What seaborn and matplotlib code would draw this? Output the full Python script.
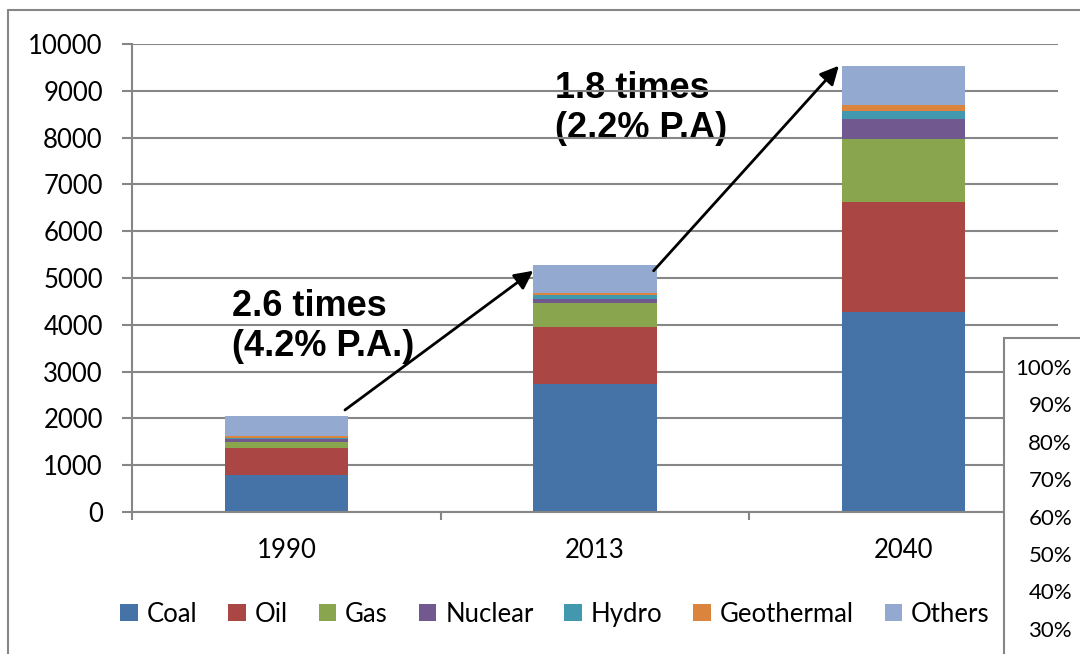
import matplotlib
matplotlib.use('Agg')
import matplotlib.pyplot as plt
from matplotlib.patches import Patch, Rectangle
from matplotlib.lines import Line2D
import pandas as pd
import seaborn as sns

# Data
years = ['1990', '2013', '2040']
sources = ['Coal', 'Oil', 'Gas', 'Nuclear', 'Hydro', 'Geothermal', 'Others']
coal = [785, 2730, 4275]
oil = [590, 1230, 2355]
gas = [120, 500, 1345]
nuclear = [65, 85, 415]
hydro = [30, 90, 185]
geothermal = [30, 35, 115]
others = [440, 605, 845]
colors = ['#4572A7', '#AA4643', '#89A54E', '#71588F', '#4198AF', '#DB843D', '#93A9CF']
yticks = list(range(0, 10001, 1000))
growth_labels = ['2.6 times\n(4.2% P.A.)', '1.8 times\n(2.2% P.A)']
side_labels = ['100%', '90%', '80%', '70%', '60%', '50%', '40%', '30%']

df = pd.DataFrame({'year': years, 'Coal': coal, 'Oil': oil, 'Gas': gas,
                   'Nuclear': nuclear, 'Hydro': hydro,
                   'Geothermal': geothermal, 'Others': others})
cum = df[sources].cumsum(axis=1)
totals = cum['Others']

sns.set_style('white')
plt.rcParams['font.family'] = ['Lato', 'DejaVu Sans']
plt.rcParams['text.color'] = 'black'

grey = '#868686'
fig = plt.figure(figsize=(10.8, 6.54), dpi=100)
ax = fig.add_axes([0.1222, 0.2171, 0.8574, 0.7156])

# stacked bars: draw cumulative totals from the top layer down
for src, col in reversed(list(zip(sources, colors))):
    sns.barplot(x=df['year'], y=cum[src], color=col, width=0.4, ax=ax,
                saturation=1, linewidth=0, errorbar=None)

ax.set_ylim(0, 10000)
ax.set_xlim(-0.5, 2.5)
ax.set_yticks(yticks)
ax.set_xlabel('')
ax.set_ylabel('')
ax.set_axisbelow(True)
ax.yaxis.grid(True, color=grey, lw=1.5)
ax.xaxis.grid(False)
for s in ['top', 'right']:
    ax.spines[s].set_visible(False)
for s in ['left', 'bottom']:
    ax.spines[s].set_color(grey)
    ax.spines[s].set_linewidth(1.5)

ax.tick_params(axis='y', left=True, length=7, width=1.5, color=grey,
               direction='out', pad=14, labelsize=18.5, labelcolor='black')
ax.tick_params(axis='x', which='major', bottom=False, length=0, pad=19,
               labelsize=18.5, labelcolor='black')
ax.set_xticks([-0.5, 0.5, 1.5, 2.5], minor=True)
ax.tick_params(axis='x', which='minor', bottom=True, length=6, width=1.5,
               color=grey, direction='out')

# growth annotations
ax.text(0.108, 0.4765, growth_labels[0], transform=ax.transAxes, ha='left',
        va='top', fontsize=26, fontweight='bold', family='Liberation Sans',
        color='black', linespacing=1.2, zorder=0.4)
ax.text(0.4568, 0.9430, growth_labels[1], transform=ax.transAxes, ha='left',
        va='top', fontsize=26, fontweight='bold', family='Liberation Sans',
        color='black', linespacing=1.2, zorder=0.4)
arrow = dict(arrowstyle='-|>', color='black', lw=2, mutation_scale=28,
             shrinkA=0, shrinkB=0)
ax.annotate('', xy=(0.80, totals[1] - 120), xytext=(0.19, totals[0] + 120),
            arrowprops=arrow)
ax.annotate('', xy=(1.79, totals[2]), xytext=(1.19, totals[1] - 120),
            arrowprops=arrow)

# legend
handles = [Patch(facecolor=c, edgecolor='none', label=s) for s, c in zip(sources, colors)]
fig.legend(handles=handles, ncol=7, loc='center', bbox_to_anchor=(0.514, 0.061),
           frameon=False, fontsize=18.5, handlelength=0.68, handleheight=0.68,
           handletextpad=0.35, columnspacing=1.2)

# outer chart border
fig.add_artist(Line2D([0.0074, 0.0074], [0, 0.9847], transform=fig.transFigure,
                      color=grey, lw=1.5))
fig.add_artist(Line2D([0.0074, 1.0], [0.9847, 0.9847], transform=fig.transFigure,
                      color=grey, lw=1.5))

# overlapping neighbour chart in the corner
fig.add_artist(Rectangle((0.9296, -0.01), 0.1, 0.4932, transform=fig.transFigure,
                         facecolor='white', edgecolor=grey, lw=1.5, zorder=5))
for i, lab in enumerate(side_labels):
    fig.text(0.9926, 1 - (369 + 37.4 * i) / 654, lab, ha='right', va='center',
             fontsize=16, color='black', zorder=6)

fig.savefig('out.png', dpi=100)
